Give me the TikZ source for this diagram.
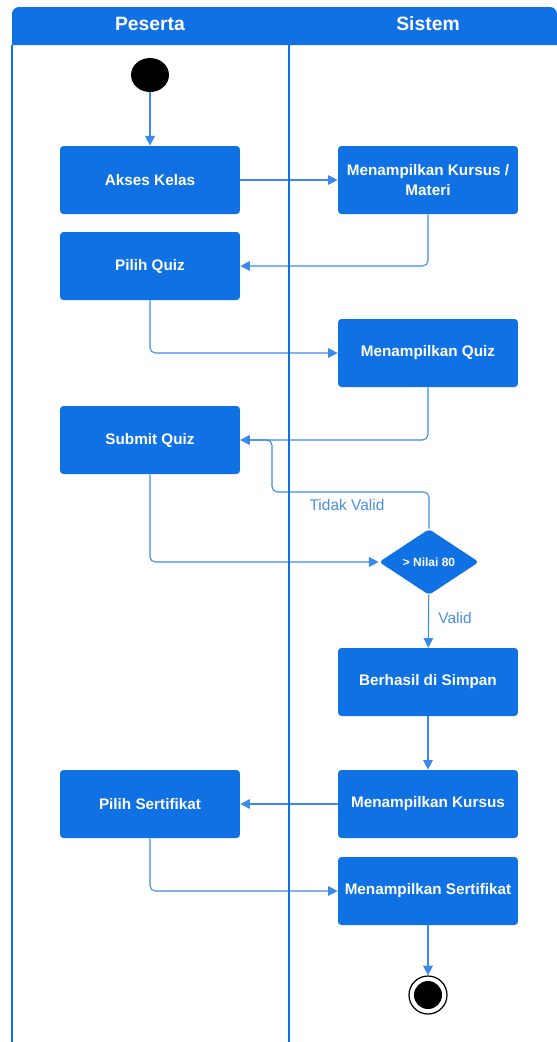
\documentclass[tikz,border=0pt]{standalone}
\usepackage{fontspec}
\setmainfont{Liberation Sans}
\usetikzlibrary{arrows.meta,shapes.geometric}
\definecolor{birutua}{HTML}{1071E5}
\definecolor{birugaris}{HTML}{3A8AEC}
\definecolor{birulabel}{HTML}{4A8FE3}
\tikzset{
  aktivitas/.style={fill=birutua, rounded corners=2pt, minimum width=3.6cm, minimum height=1.36cm,
    align=center, text=white, font=\fontsize{8.7}{11}\selectfont\bfseries},
  keputusan/.style={diamond, fill=birutua, rounded corners=2pt, minimum width=2cm, minimum height=1.32cm,
    inner sep=0pt, text=white, font=\fontsize{6.8}{8}\selectfont\bfseries},
  alur/.style={draw=birugaris, line width=0.6pt, rounded corners=3pt, -{Triangle[length=5.5pt,width=5.5pt]}},
  ket/.style={text=birulabel, font=\fontsize{8.8}{10}\selectfont},
  judul/.style={text=white, font=\fontsize{11}{13}\selectfont\bfseries},
  lajur/.style={draw=birutua, line width=1.2pt}
}
\begin{document}
\begin{tikzpicture}[x=0.02cm, y=-0.02cm]
    \useasboundingbox (0,0) rectangle (557,1042);
    %header lajur
    \fill[birutua] (12,45) -- (12,12) [rounded corners=4pt] -- (12,7) -- (557,7) [sharp corners] -- (557,45) -- cycle;
    \node[judul] (peserta) at (150,24) {Peserta};
    \node[judul] (sistem) at (428,24) {Sistem};
    %node aktivitas
    \node[ellipse, fill=black, minimum width=0.76cm, minimum height=0.68cm, inner sep=0pt] (mulai) at (150,75) {};
    \node[aktivitas] (akses) at (150,180) {Akses Kelas};
    \node[aktivitas] (kursusmateri) at (428,180) {Menampilkan Kursus /\\Materi};
    \node[aktivitas] (pilihquiz) at (150,266) {Pilih Quiz};
    \node[aktivitas] (tampilquiz) at (428,353) {Menampilkan Quiz};
    \node[aktivitas] (submit) at (150,440) {Submit Quiz};
    \node[keputusan] (nilai) at (429,562) {> Nilai 80};
    \node[aktivitas] (simpan) at (428,682) {Berhasil di Simpan};
    \node[aktivitas] (pilihsert) at (150,804) {Pilih Sertifikat};
    \node[aktivitas] (tampilkursus) at (428,804) {Menampilkan Kursus};
    \node[aktivitas] (tampilsert) at (428,891) {Menampilkan Sertifikat};
    \node[circle, draw=black, line width=0.7pt, fill=white, minimum size=0.76cm, inner sep=0pt] (selesai) at (428,995) {};
    \fill[black] (selesai.center) circle (0.28cm); %titik akhir
    %alur
    \draw[alur] (mulai) -- (akses);
    \draw[alur] (akses) -- (kursusmateri);
    \draw[alur] (kursusmateri.south) |- (pilihquiz.east);
    \draw[alur] (pilihquiz.south) |- (tampilquiz.west);
    \draw[alur] (tampilquiz.south) |- (submit.east);
    \draw[alur] (submit.south) |- (nilai.west);
    \coordinate (belok) at (272,492); %balik ke submit
    \draw[alur] (nilai.north) |- (belok) |- (submit.east);
    \node[ket] (tidakvalid) at (347,505) {Tidak Valid};
    \draw[alur] (nilai) -- (simpan);
    \node[ket] (valid) at (455,618) {Valid};
    \draw[alur] (simpan) -- (tampilkursus);
    \draw[alur] (tampilkursus) -- (pilihsert);
    \draw[alur] (pilihsert.south) |- (tampilsert.west);
    \draw[alur] (tampilsert) -- (selesai);
    %garis lajur
    \draw[lajur] (12,45) -- (12,1042);
    \draw[lajur] (289,45) -- (289,1042);
\end{tikzpicture}
\end{document}
